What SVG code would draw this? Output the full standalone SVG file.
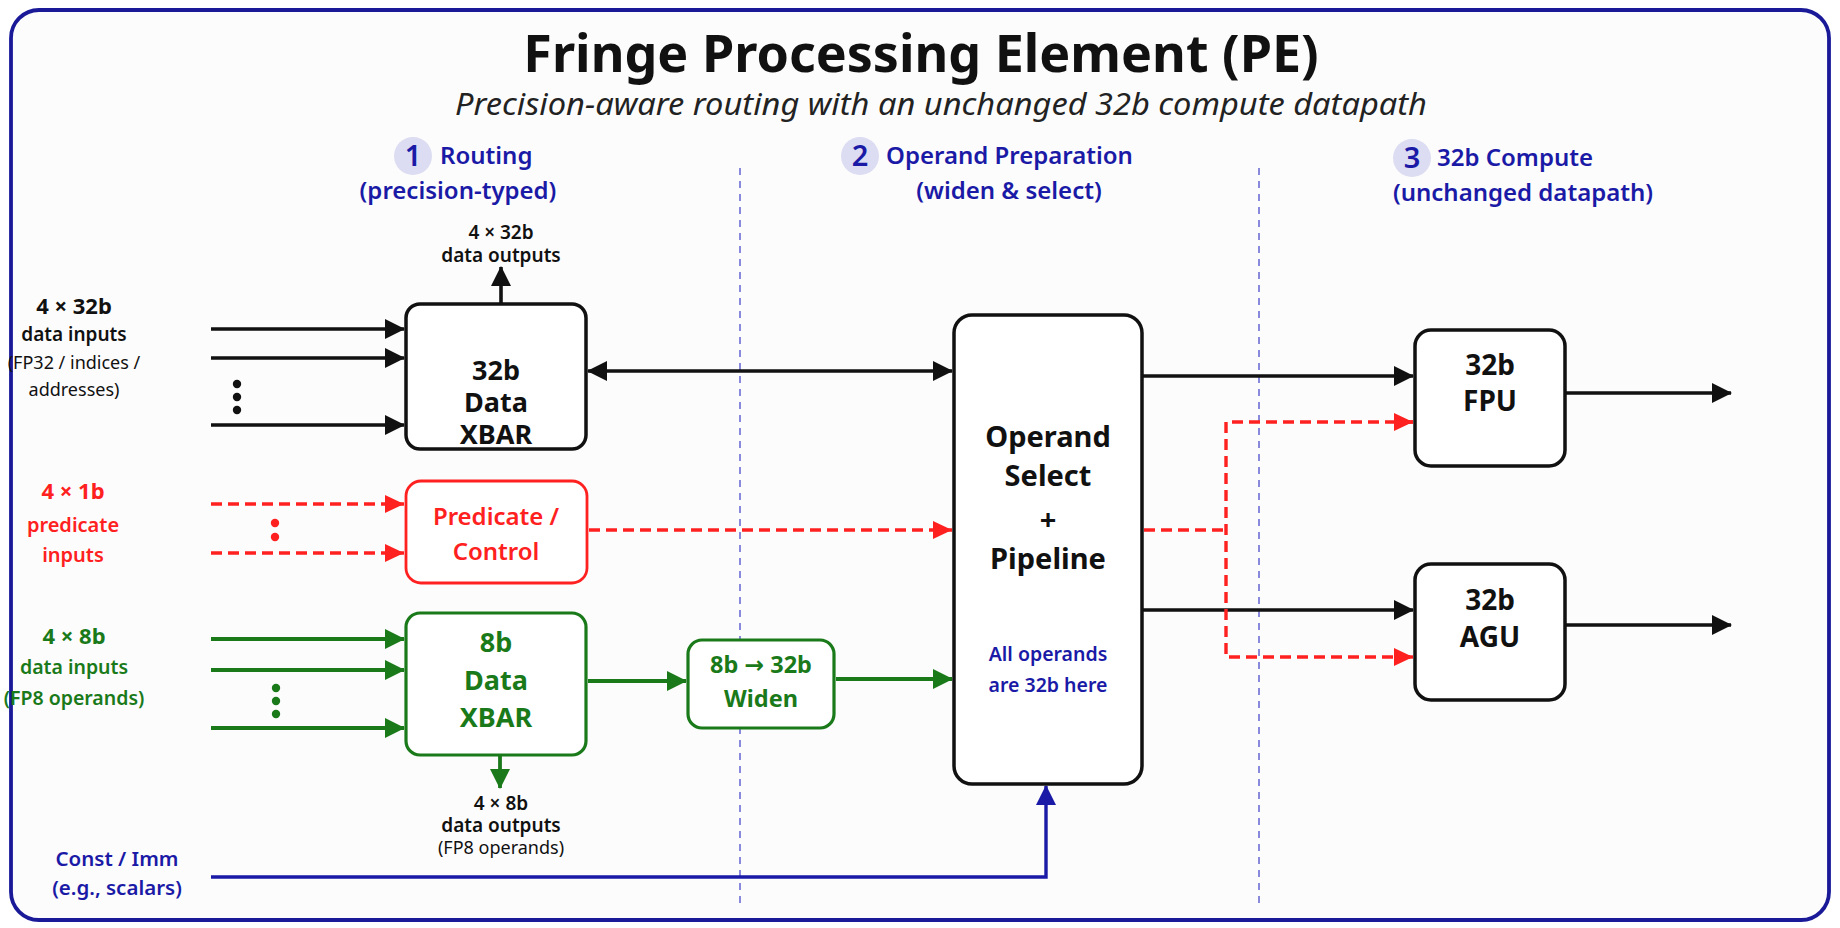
<svg xmlns="http://www.w3.org/2000/svg" width="1840" height="928" viewBox="0 0 1840 928">
<defs>
<style>
text{font-family:"Noto Sans","Open Sans","DejaVu Sans",sans-serif;}
.title{font-size:52px;font-weight:700;fill:#111;text-anchor:middle;}
.sub{font-size:30px;font-style:italic;fill:#222;text-anchor:middle;}
.hdr{font-size:24px;font-weight:600;fill:#1a1aa6;}
.hdrc{font-size:24px;font-weight:600;fill:#1a1aa6;text-anchor:middle;}
.num{font-size:29px;font-weight:600;fill:#1a1aa6;text-anchor:middle;}
.badge{fill:#dcdcf2;}
.box{fill:#fff;stroke:#111;stroke-width:3.5;}
.rbox{fill:#fff;stroke:#ff2020;stroke-width:2.8;}
.gbox{fill:#fff;stroke:#1a7a1a;stroke-width:3.2;}
.bt{font-size:27px;font-weight:700;fill:#111;text-anchor:middle;}
.bt2{font-size:28px;font-weight:700;fill:#111;text-anchor:middle;}
.rt{font-size:24px;font-weight:600;fill:#ff2020;text-anchor:middle;}
.gt{font-size:27px;font-weight:700;fill:#1a7a1a;text-anchor:middle;}
.gts{font-size:23.5px;font-weight:700;fill:#1a7a1a;text-anchor:middle;}
.lb{font-size:22px;font-weight:700;fill:#111;text-anchor:middle;}
.lbs{font-size:19px;font-weight:600;fill:#111;text-anchor:middle;}
.lbn{font-size:18px;fill:#111;text-anchor:middle;}
.lr{font-size:22px;font-weight:700;fill:#ff2020;text-anchor:middle;}
.lrs{font-size:20px;font-weight:600;fill:#ff2020;text-anchor:middle;}
.lg{font-size:22px;font-weight:700;fill:#1a7a1a;text-anchor:middle;}
.lgs{font-size:19.5px;font-weight:600;fill:#1a7a1a;text-anchor:middle;}
.lbl{font-size:20.5px;font-weight:600;fill:#1a1aa6;text-anchor:middle;}
.note{font-size:19.5px;font-weight:600;fill:#1a1aa6;text-anchor:middle;}
.blk{fill:none;stroke:#111;stroke-width:3.6;}
.red{fill:none;stroke:#ff2020;stroke-width:3.4;stroke-dasharray:11 6;}
.grn{fill:none;stroke:#1a7a1a;stroke-width:3.8;}
.blu{fill:none;stroke:#1a1aa6;stroke-width:3.4;}
.div{fill:none;stroke:#5a5ad0;stroke-width:1.4;stroke-dasharray:7 6;}
</style>
<marker id="ak" markerUnits="userSpaceOnUse" markerWidth="20" markerHeight="22" refX="19" refY="11" orient="auto-start-reverse"><path d="M0,1 L20,11 L0,21 z" fill="#111"/></marker>
<marker id="ar" markerUnits="userSpaceOnUse" markerWidth="20" markerHeight="20" refX="19" refY="10" orient="auto"><path d="M0,1 L19,10 L0,19 z" fill="#ff2020"/></marker>
<marker id="ag" markerUnits="userSpaceOnUse" markerWidth="20" markerHeight="22" refX="19" refY="11" orient="auto"><path d="M0,1 L20,11 L0,21 z" fill="#1a7a1a"/></marker>
<marker id="ab" markerUnits="userSpaceOnUse" markerWidth="20" markerHeight="22" refX="19" refY="11" orient="auto"><path d="M0,1 L20,11 L0,21 z" fill="#1a1aa6"/></marker>
</defs>
<rect x="0" y="0" width="1840" height="928" fill="#fff"/>
<rect x="11" y="10" width="1818" height="910" rx="28" fill="#fcfcfc" stroke="#1a1a99" stroke-width="3.8"/>

<g id="title">
<text class="title" x="921" y="72">Fringe Processing Element (PE)</text>
<text class="sub" x="941" y="115" textLength="972" lengthAdjust="spacingAndGlyphs">Precision-aware routing with an unchanged 32b compute datapath</text>
</g>

<g id="section1">
<circle class="badge" cx="413" cy="156" r="19"/>
<text class="num" x="413" y="166">1</text>
<text class="hdr" x="440" y="164">Routing</text>
<text class="hdrc" x="458" y="199">(precision-typed)</text>
</g>
<g id="section2">
<circle class="badge" cx="860" cy="156" r="19"/>
<text class="num" x="860" y="166">2</text>
<text class="hdr" x="886" y="164">Operand Preparation</text>
<text class="hdrc" x="1009" y="199">(widen &amp; select)</text>
</g>
<g id="section3">
<circle class="badge" cx="1412" cy="158" r="19"/>
<text class="num" x="1412" y="168">3</text>
<text class="hdr" x="1437" y="166">32b Compute</text>
<text class="hdrc" x="1523" y="201">(unchanged datapath)</text>
</g>

<g id="dividers">
<line class="div" x1="740" y1="168" x2="740" y2="906"/>
<line class="div" x1="1259" y1="168" x2="1259" y2="906"/>
</g>

<g id="connectors">
<line class="blk" x1="211" y1="329" x2="404" y2="329" marker-end="url(#ak)"/>
<line class="blk" x1="211" y1="358" x2="404" y2="358" marker-end="url(#ak)"/>
<line class="blk" x1="211" y1="425" x2="404" y2="425" marker-end="url(#ak)"/>
<line class="blk" x1="501" y1="304" x2="501" y2="267" marker-end="url(#ak)"/>
<line class="blk" x1="588" y1="371" x2="952" y2="371" marker-start="url(#ak)" marker-end="url(#ak)"/>
<line class="red" x1="211" y1="504" x2="404" y2="504" marker-end="url(#ar)"/>
<line class="red" x1="211" y1="553" x2="404" y2="553" marker-end="url(#ar)"/>
<line class="red" x1="589" y1="530" x2="952" y2="530" marker-end="url(#ar)"/>
<line class="grn" x1="211" y1="639" x2="404" y2="639" marker-end="url(#ag)"/>
<line class="grn" x1="211" y1="670" x2="404" y2="670" marker-end="url(#ag)"/>
<line class="grn" x1="211" y1="728" x2="404" y2="728" marker-end="url(#ag)"/>
<line class="grn" x1="500" y1="755" x2="500" y2="788" marker-end="url(#ag)"/>
<line class="grn" x1="588" y1="681" x2="686" y2="681" marker-end="url(#ag)"/>
<line class="grn" x1="836" y1="679" x2="952" y2="679" marker-end="url(#ag)"/>
<line class="blk" x1="1142" y1="376" x2="1413" y2="376" marker-end="url(#ak)"/>
<line class="blk" x1="1142" y1="610" x2="1413" y2="610" marker-end="url(#ak)"/>
<path class="red" d="M1144,530 H1226"/>
<path class="red" d="M1413,422 H1226 V657 H1413"/>
<line x1="1395" y1="422" x2="1413" y2="422" stroke="#ff2020" stroke-width="3.4" marker-end="url(#ar)"/>
<line x1="1395" y1="657" x2="1413" y2="657" stroke="#ff2020" stroke-width="3.4" marker-end="url(#ar)"/>
<line class="blk" x1="1565" y1="393" x2="1731" y2="393" marker-end="url(#ak)"/>
<line class="blk" x1="1565" y1="625" x2="1731" y2="625" marker-end="url(#ak)"/>
<path class="blu" d="M211,877 H1046 V786" marker-end="url(#ab)"/>
</g>

<g id="dots">
<circle cx="237" cy="384" r="4.2" fill="#111"/><circle cx="237" cy="397" r="4.2" fill="#111"/><circle cx="237" cy="410" r="4.2" fill="#111"/>
<circle cx="275" cy="523" r="4.2" fill="#ff2020"/><circle cx="275" cy="537" r="4.2" fill="#ff2020"/>
<circle cx="276" cy="688" r="4.2" fill="#1a7a1a"/><circle cx="276" cy="701" r="4.2" fill="#1a7a1a"/><circle cx="276" cy="714" r="4.2" fill="#1a7a1a"/>
</g>

<g id="in32">
<text class="lb" x="74" y="314">4 × 32b</text>
<text class="lbs" x="74" y="341">data inputs</text>
<text class="lbn" x="74" y="369">(FP32 / indices /</text>
<text class="lbn" x="74" y="396">addresses)</text>
</g>
<g id="in1">
<text class="lr" x="73" y="499">4 × 1b</text>
<text class="lrs" x="73" y="532">predicate</text>
<text class="lrs" x="73" y="562">inputs</text>
</g>
<g id="in8">
<text class="lg" x="74" y="644">4 × 8b</text>
<text class="lgs" x="74" y="674">data inputs</text>
<text class="lgs" x="74" y="705">(FP8 operands)</text>
</g>
<g id="constimm">
<text class="lbl" x="117" y="866">Const / Imm</text>
<text class="lbl" x="117" y="895">(e.g., scalars)</text>
</g>

<g id="out32">
<text class="lbs" x="501" y="239">4 × 32b</text>
<text class="lbs" x="501" y="262">data outputs</text>
</g>
<g id="out8">
<text class="lbs" x="501" y="810">4 × 8b</text>
<text class="lbs" x="501" y="832">data outputs</text>
<text class="lbn" x="501" y="854">(FP8 operands)</text>
</g>

<g id="xbar32">
<rect class="box" x="406" y="304" width="180" height="145" rx="14"/>
<text class="bt" x="496" y="380">32b</text>
<text class="bt" x="496" y="412">Data</text>
<text class="bt" x="496" y="444">XBAR</text>
</g>
<g id="predicate">
<rect class="rbox" x="406" y="481" width="181" height="102" rx="15"/>
<text class="rt" x="496" y="525">Predicate /</text>
<text class="rt" x="496" y="560">Control</text>
</g>
<g id="xbar8">
<rect class="gbox" x="406" y="613" width="180" height="142" rx="14"/>
<text class="gt" x="496" y="652">8b</text>
<text class="gt" x="496" y="690">Data</text>
<text class="gt" x="496" y="727">XBAR</text>
</g>
<g id="widen">
<rect class="gbox" x="688" y="640" width="146" height="88" rx="14"/>
<text class="gts" x="761" y="673">8b → 32b</text>
<text class="gts" x="761" y="707">Widen</text>
</g>
<g id="operand">
<rect class="box" x="954" y="315" width="188" height="469" rx="18"/>
<text class="bt2" x="1048" y="447" style="font-size:29px">Operand</text>
<text class="bt2" x="1048" y="486" style="font-size:29px">Select</text>
<text class="bt2" x="1048" y="530" style="font-size:29px">+</text>
<text class="bt2" x="1048" y="569" style="font-size:29px">Pipeline</text>
<text class="note" x="1048" y="661">All operands</text>
<text class="note" x="1048" y="692">are 32b here</text>
</g>
<g id="fpu">
<rect class="box" x="1415" y="330" width="150" height="136" rx="16"/>
<text class="bt2" x="1490" y="375">32b</text>
<text class="bt2" x="1490" y="411">FPU</text>
</g>
<g id="agu">
<rect class="box" x="1415" y="564" width="150" height="136" rx="16"/>
<text class="bt2" x="1490" y="610">32b</text>
<text class="bt2" x="1490" y="647">AGU</text>
</g>
</svg>
